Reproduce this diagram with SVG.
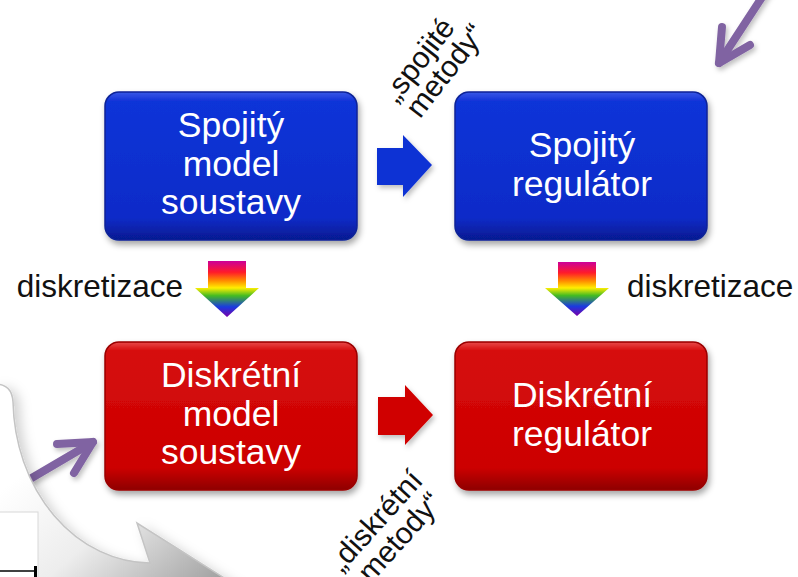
<svg xmlns="http://www.w3.org/2000/svg" width="798" height="577" viewBox="0 0 798 577">
<style>
.box text{font-family:"Liberation Sans",Arial,sans-serif;font-size:35.5px;fill:#ffffff;text-anchor:middle}
.lbl{font-family:"Liberation Sans",Arial,sans-serif;font-size:31.5px;fill:#111111}
.rot{font-family:"Liberation Sans",Arial,sans-serif;font-size:30px;fill:#111111;text-anchor:middle}
.purple{fill:none;stroke:#8064a2;stroke-width:8;stroke-linecap:round;stroke-linejoin:round}
</style>
<defs>
<linearGradient id="gBlue" x1="0" y1="0" x2="0" y2="1">
<stop offset="0" stop-color="#3a58e6"/>
<stop offset="0.06" stop-color="#1034d8"/>
<stop offset="0.85" stop-color="#0a2bc8"/>
<stop offset="1" stop-color="#061a90"/>
</linearGradient>
<linearGradient id="gRed" x1="0" y1="0" x2="0" y2="1">
<stop offset="0" stop-color="#e84a4a"/>
<stop offset="0.06" stop-color="#d60c0c"/>
<stop offset="0.85" stop-color="#cc0000"/>
<stop offset="1" stop-color="#8e0000"/>
</linearGradient>
<linearGradient id="gRain" x1="0" y1="0" x2="0" y2="1">
<stop offset="0" stop-color="#cc0099"/>
<stop offset="0.2" stop-color="#ff1a2a"/>
<stop offset="0.35" stop-color="#ff8a00"/>
<stop offset="0.48" stop-color="#ffee00"/>
<stop offset="0.62" stop-color="#44bb22"/>
<stop offset="0.82" stop-color="#1a3ae0"/>
<stop offset="1" stop-color="#7a00aa"/>
</linearGradient>
<linearGradient id="gCurve" gradientUnits="userSpaceOnUse" x1="60" y1="440" x2="200" y2="600">
<stop offset="0" stop-color="#ffffff"/>
<stop offset="0.45" stop-color="#ededed"/>
<stop offset="1" stop-color="#a0a0a0"/>
</linearGradient>
<filter id="shadow" x="-10%" y="-10%" width="125%" height="130%">
<feDropShadow dx="2" dy="4" stdDeviation="3" flood-color="#000000" flood-opacity="0.35"/>
</filter>
<filter id="soft" x="-30%" y="-30%" width="160%" height="160%">
<feDropShadow dx="2" dy="3" stdDeviation="2.5" flood-color="#000000" flood-opacity="0.25"/>
</filter>
<filter id="curveShadow" x="-20%" y="-20%" width="150%" height="150%">
<feDropShadow dx="6" dy="4" stdDeviation="6" flood-color="#000000" flood-opacity="0.18"/>
</filter>
</defs>
<rect width="798" height="577" fill="#ffffff"/>

<g id="connectors">
<polygon points="377,148 403,148 403,135 432,165 403,197 403,185 377,185" fill="#1133d4" filter="url(#soft)"/>
<polygon points="378,397 405,397 405,385 433,415 405,445 405,435 378,435" fill="#d00000" filter="url(#soft)"/>
<polygon points="208,261 246,261 246,288 259,288 227,317 195,288 208,288" fill="url(#gRain)"/>
<polygon points="558,262 596,262 596,288 609,288 577,316 545,288 558,288" fill="url(#gRain)"/>
<text class="lbl" x="183" y="297" text-anchor="end">diskretizace</text>
<text class="lbl" x="627" y="297">diskretizace</text>
<g transform="translate(420,61) rotate(-52)">
<text class="rot" x="0" y="8">„spojité</text>
<text class="rot" x="8" y="36">metody“</text>
</g>
<g transform="translate(377,522) rotate(-48)">
<text class="rot" x="0" y="8">„diskrétní</text>
<text class="rot" x="4" y="37">metody“</text>
</g>
</g>

<g id="purple-arrows" filter="url(#soft)">
<polyline class="purple" points="772,-18 719,63"/>
<polyline class="purple" points="722,27 719,63 750,45"/>
<polyline class="purple" points="30,479 93,442"/>
<polyline class="purple" points="57,444 93,442 74,473"/>
</g>

<g id="curved-arrow">
<path d="M -5,384 Q 12,384 13,402 A 138 165 0 0 0 150,563 L 137,523 L 275,610 L -5,610 Z" fill="url(#gCurve)" stroke="#c4c4c4" stroke-width="1.5" filter="url(#curveShadow)"/>
<rect x="-1" y="512" width="39" height="70" fill="#ffffff" stroke="#d8d8d8" stroke-width="1"/>
<line x1="0" y1="571" x2="36" y2="571" stroke="#000000" stroke-width="1.5"/>
<rect x="34" y="566" width="3" height="11" fill="#000000"/>
</g>

<g id="n1" class="box">
<rect x="105" y="92" width="252" height="148" rx="14" fill="url(#gBlue)" stroke="#0a2296" stroke-width="1.5" filter="url(#shadow)"/>
<text x="231" y="137">Spojitý</text>
<text x="231" y="176">model</text>
<text x="231" y="214">soustavy</text>
</g>
<g id="n2" class="box">
<rect x="455" y="92" width="252" height="148" rx="14" fill="url(#gBlue)" stroke="#0a2296" stroke-width="1.5" filter="url(#shadow)"/>
<text x="582" y="157">Spojitý</text>
<text x="582" y="196">regulátor</text>
</g>
<g id="n3" class="box">
<rect x="105" y="342" width="252" height="148" rx="14" fill="url(#gRed)" stroke="#9a0000" stroke-width="1.5" filter="url(#shadow)"/>
<text x="231" y="387">Diskrétní</text>
<text x="231" y="426">model</text>
<text x="231" y="464">soustavy</text>
</g>
<g id="n4" class="box">
<rect x="455" y="342" width="252" height="148" rx="14" fill="url(#gRed)" stroke="#9a0000" stroke-width="1.5" filter="url(#shadow)"/>
<text x="582" y="407">Diskrétní</text>
<text x="582" y="446">regulátor</text>
</g>
</svg>
